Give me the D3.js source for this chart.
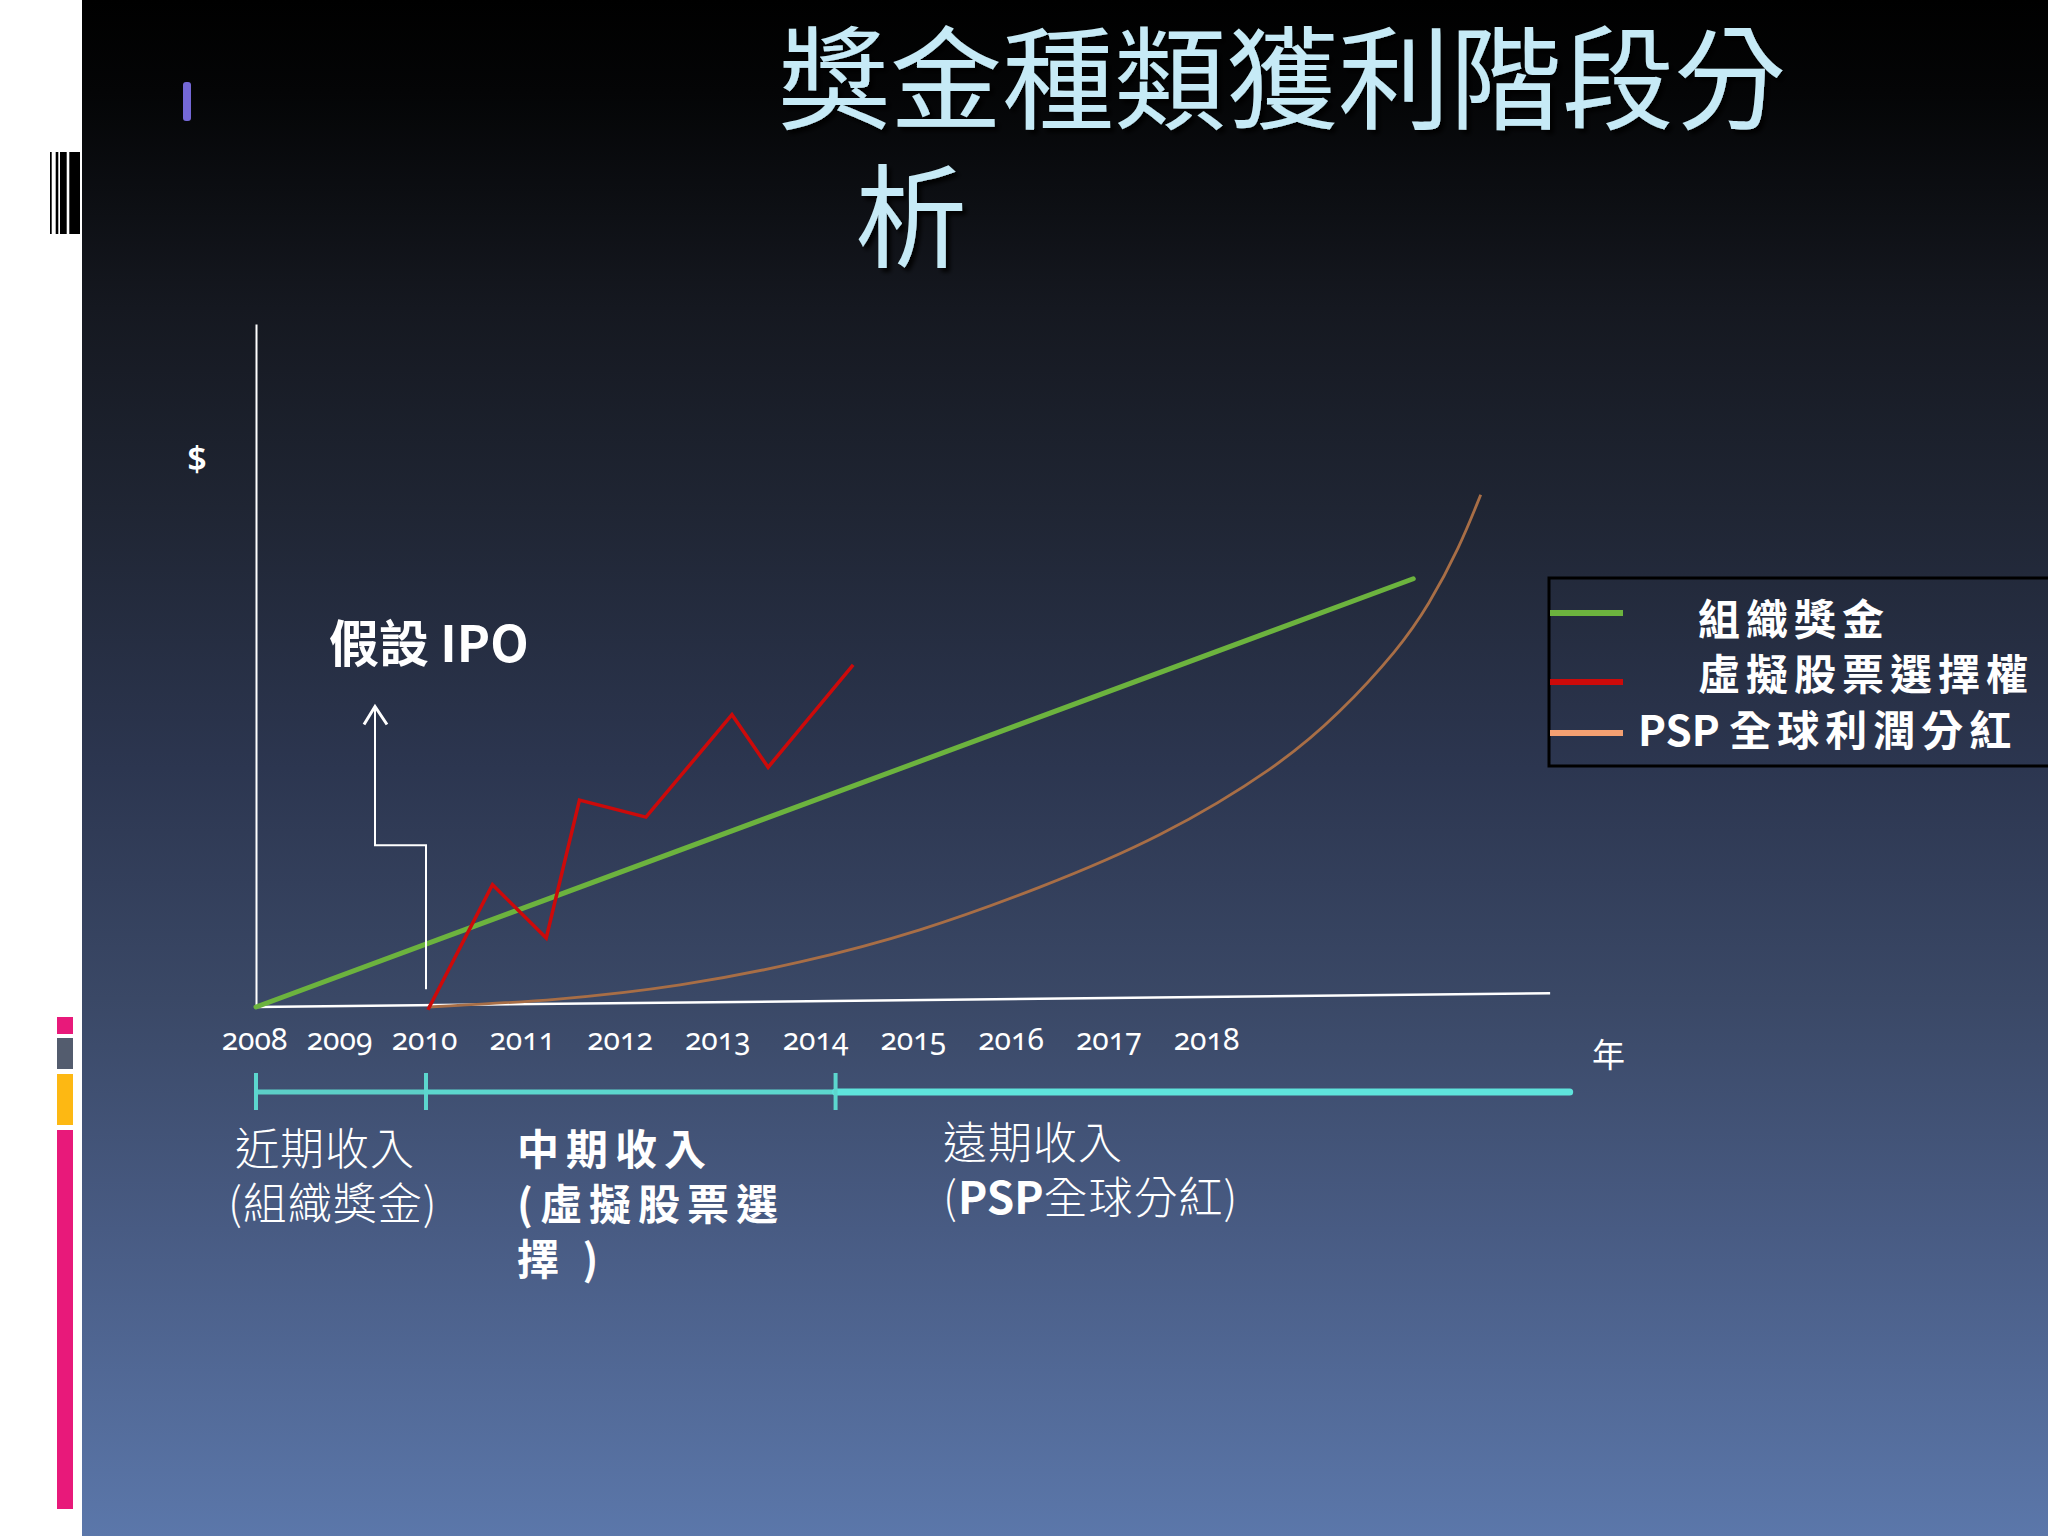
<!DOCTYPE html>
<html>
<head>
<meta charset="utf-8">
<script src="https://cdn.jsdelivr.net/npm/d3@7"></script>
<style>
html, body { margin: 0; padding: 0; background: #fff; }
svg { display: block; }
</style>
</head>
<body>
<svg id="slide" width="2048" height="1536"></svg>
<script>
// chart values
var titleLines = ["獎金種類獲利階段分", "析"];
var years = [2008, 2009, 2010, 2011, 2012, 2013, 2014, 2015, 2016, 2017, 2018];

var bonusYears = [2008, 2020.1];
var bonusValues = [0, 62.7];

var optionYears = [2010.02, 2010.68, 2011.23, 2011.57, 2012.25, 2013.13, 2013.5, 2014.37];
var optionValues = [-0.4, 17.9, 10.1, 30.3, 27.8, 42.8, 35.1, 50.1];

var pspYears = [2010.02, 2011.37, 2012.6, 2013.83, 2015.05, 2016.28, 2017.51, 2018.73, 2019.34, 2019.95, 2020.26, 2020.57, 2020.79];
var pspValues = [0, 1.0, 3.0, 6.4, 11.0, 17.4, 24.7, 35.3, 42.9, 52.4, 58.9, 67.2, 75.0];

var ipoArrowYears = [2010, 2010, 2009.4, 2009.4];
var ipoArrowValues = [2.6, 23.7, 23.7, 44];

var phaseBreaks = [2008, 2010, 2014.19, 2021.7];
var phaseLabels = [["近期收入", "(組織獎金)"], ["中期收入", "( 虛擬股票選", "擇 )"], ["遠期收入", "(PSP全球分紅)"]];

var legendLabels = ["組織獎金", "虛擬股票選擇權", "PSP 全球利潤分紅"];
var seriesColors = ["#6cb33e", "#cc0a0a", "#f4a072"];

var svg = d3.select("#slide");
var defs = svg.append("defs");

// background gradient of the slide
var grad = defs.append("linearGradient")
    .attr("id", "bg")
    .attr("x1", 0).attr("y1", 0).attr("x2", 0).attr("y2", 1);
[[0, "#000000"], [0.06, "#040506"], [0.2, "#151820"], [0.33, "#1f2533"], [0.5, "#2c3650"],
 [0.65, "#3a4866"], [0.8, "#485b83"], [1, "#5b77aa"]].forEach(function (s) {
    grad.append("stop").attr("offset", s[0]).attr("stop-color", s[1]);
});

var shadow = defs.append("filter").attr("id", "shadow")
    .attr("x", "-5%").attr("y", "-5%").attr("width", "115%").attr("height", "115%");
shadow.append("feDropShadow")
    .attr("dx", 4).attr("dy", 4).attr("stdDeviation", 2)
    .attr("flood-color", "#000").attr("flood-opacity", 0.9);

svg.append("rect").attr("width", 2048).attr("height", 1536).attr("fill", "#ffffff");
svg.append("rect").attr("x", 82).attr("width", 1966).attr("height", 1536).attr("fill", "url(#bg)");

// slide decorations on the left
var bars = [[50, 1.7], [55.7, 2.6], [60, 6.7], [69.3, 10.7]];
svg.selectAll(".barcode").data(bars).enter().append("rect")
    .attr("class", "barcode")
    .attr("x", function (d) { return d[0]; })
    .attr("y", 152)
    .attr("width", function (d) { return d[1]; })
    .attr("height", 82)
    .attr("fill", "#000");

svg.append("rect").attr("x", 183).attr("y", 82).attr("width", 8).attr("height", 39)
    .attr("rx", 3).attr("fill", "#7468d6");

var blocks = [[1017, 17, "#e8197a"], [1038, 31, "#535c6e"], [1074, 51, "#fdb813"], [1130, 379, "#e8197a"]];
svg.selectAll(".block").data(blocks).enter().append("rect")
    .attr("class", "block")
    .attr("x", 57)
    .attr("y", function (d) { return d[0]; })
    .attr("width", 16)
    .attr("height", function (d) { return d[1]; })
    .attr("fill", function (d) { return d[2]; });

// title
svg.append("g").attr("filter", "url(#shadow)")
    .selectAll("text").data(titleLines).enter().append("text")
    .attr("x", function (d, i) { return i === 0 ? 778 : 855; })
    .attr("y", function (d, i) { return 121 + i * 138; })
    .attr("font-family", "'Noto Sans CJK TC', sans-serif")
    .attr("font-size", 112)
    .attr("fill", "#c6eaf6")
    .text(function (d) { return d; });

// scales
var x = d3.scaleLinear().domain([2008, 2010, 2018]).range([256, 426, 1208]);
var y = d3.scaleLinear().domain([0, 100]).range([1007, 324]);

// y axis: bare line
var yAxis = svg.append("g")
    .attr("transform", "translate(" + x(2008) + ",0)")
    .call(d3.axisLeft(y).tickValues([]).tickSizeOuter(0));
yAxis.select(".domain").attr("stroke", "#ffffff").attr("stroke-width", 2);

svg.append("text")
    .attr("x", 197).attr("y", 471)
    .attr("text-anchor", "middle")
    .attr("font-family", "'Noto Sans', sans-serif")
    .attr("font-weight", 600)
    .attr("font-size", 34)
    .attr("fill", "#ffffff")
    .text("$");

// x axis: slightly tilted base line, labels from axisBottom
svg.append("line")
    .attr("x1", x(2008)).attr("y1", y(0))
    .attr("x2", x(2021.5)).attr("y2", y(2))
    .attr("stroke", "#ffffff").attr("stroke-width", 2.5);

var xAxis = svg.append("g")
    .attr("transform", "translate(-2," + y(0) + ")")
    .call(d3.axisBottom(x).tickValues(years).tickFormat(d3.format("d")).tickSize(0).tickPadding(22));
xAxis.select(".domain").remove();
xAxis.selectAll("text")
    .attr("font-family", "'Noto Sans', sans-serif")
    .attr("font-size", 30)
    .style("font-variant-numeric", "oldstyle-nums")
    .attr("fill", "#ffffff");

svg.append("text")
    .attr("x", 1592).attr("y", 1067)
    .attr("font-family", "'Noto Sans CJK TC', sans-serif")
    .attr("font-size", 33)
    .attr("fill", "#ffffff")
    .text("年");

// series lines
var line = d3.line()
    .x(function (d) { return x(d[0]); })
    .y(function (d) { return y(d[1]); });

var pspData = d3.zip(pspYears, pspValues);
svg.append("path")
    .attr("d", line.curve(d3.curveBasis)(pspData))
    .attr("fill", "none")
    .attr("stroke", "#a86e46")
    .attr("stroke-width", 2.8);

line.curve(d3.curveLinear);
svg.append("path")
    .attr("d", line(d3.zip(bonusYears, bonusValues)))
    .attr("fill", "none")
    .attr("stroke", seriesColors[0])
    .attr("stroke-width", 5)
    .attr("stroke-linecap", "round");

svg.append("path")
    .attr("d", line(d3.zip(optionYears, optionValues)))
    .attr("fill", "none")
    .attr("stroke", seriesColors[1])
    .attr("stroke-width", 3.5)
    .attr("stroke-linejoin", "miter");

// IPO annotation
svg.append("path")
    .attr("d", line(d3.zip(ipoArrowYears, ipoArrowValues)))
    .attr("fill", "none")
    .attr("stroke", "#ffffff")
    .attr("stroke-width", 2);

var tipX = x(ipoArrowYears[3]), tipY = y(ipoArrowValues[3]);
svg.append("path")
    .attr("d", "M" + (tipX - 11) + "," + (tipY + 18) + "L" + tipX + "," + tipY + "L" + (tipX + 12) + "," + (tipY + 18))
    .attr("fill", "none")
    .attr("stroke", "#ffffff")
    .attr("stroke-width", 3);

svg.append("text")
    .attr("x", 329).attr("y", 662)
    .attr("font-family", "'Noto Sans CJK TC', sans-serif")
    .attr("font-weight", "bold")
    .attr("font-size", 50)
    .attr("fill", "#ffffff")
    .text("假設 IPO");

// legend
var legend = svg.append("g");
legend.append("rect")
    .attr("x", 1549).attr("y", 578)
    .attr("width", 600).attr("height", 188)
    .attr("fill", "none")
    .attr("stroke", "#000")
    .attr("stroke-width", 3);

var legendLineY = [613, 682, 733];
var legendTextX = [1698, 1698, 1638];
var legendTextY = [635, 690, 746];
legend.selectAll(".lg-line").data(legendLabels).enter().append("line")
    .attr("class", "lg-line")
    .attr("x1", 1550).attr("x2", 1623)
    .attr("y1", function (d, i) { return legendLineY[i]; })
    .attr("y2", function (d, i) { return legendLineY[i]; })
    .attr("stroke", function (d, i) { return seriesColors[i]; })
    .attr("stroke-width", 6);

legend.selectAll(".lg-text").data(legendLabels).enter().append("text")
    .attr("class", "lg-text")
    .attr("x", function (d, i) { return legendTextX[i]; })
    .attr("y", function (d, i) { return legendTextY[i]; })
    .attr("font-family", "'Noto Sans CJK TC', sans-serif")
    .attr("font-weight", "bold")
    .attr("font-size", 42)
    .attr("fill", "#ffffff")
    .each(function (d) {
        var t = d3.select(this);
        var parts = d.split(" ");
        if (parts.length > 1) {
            t.append("tspan").attr("letter-spacing", 0).text(parts[0] + " ");
            t.append("tspan").attr("letter-spacing", 6).text(parts[1]);
        } else {
            t.append("tspan").attr("letter-spacing", 6).text(d);
        }
    });

// timeline of income phases
var tl = svg.append("g");
var tlY = 1092;
var segWidth = [5, 5, 7];
var segColor = ["#5ccfc8", "#5cd6ce", "#5ee4dc"];
d3.range(phaseBreaks.length - 1).forEach(function (i) {
    tl.append("line")
        .attr("x1", x(phaseBreaks[i])).attr("x2", x(phaseBreaks[i + 1]))
        .attr("y1", tlY).attr("y2", tlY)
        .attr("stroke", segColor[i])
        .attr("stroke-width", segWidth[i])
        .attr("stroke-linecap", i === 2 ? "round" : "butt");
});
tl.selectAll(".tick").data(phaseBreaks.slice(0, 3)).enter().append("line")
    .attr("x1", function (d) { return x(d); })
    .attr("x2", function (d) { return x(d); })
    .attr("y1", tlY - 19).attr("y2", tlY + 18)
    .attr("stroke", "#5cd6ce")
    .attr("stroke-width", 4);

var phaseX = [228, 517, 943];
var phaseY = [1165, 1165, 1159];
var phaseBold = [false, true, false];
phaseLabels.forEach(function (lines, i) {
    lines.forEach(function (txt, j) {
        var t = svg.append("text")
            .attr("x", phaseX[i] + (i === 0 && j === 0 ? 7 : 0))
            .attr("y", phaseY[i] + j * 55)
            .attr("font-family", "'Noto Sans CJK TC', sans-serif")
            .attr("font-size", phaseBold[i] ? 42 : 44)
            .attr("font-weight", phaseBold[i] ? "bold" : 300)
            .attr("letter-spacing", phaseBold[i] ? 7 : 1)
            .attr("fill", "#ffffff");
        if (txt.indexOf("PSP") >= 0) {
            t.append("tspan").text("(");
            t.append("tspan").attr("font-weight", "bold").attr("letter-spacing", 0).text("PSP");
            t.append("tspan").text(txt.slice(4));
        } else if (txt.indexOf("( ") === 0) {
            t.append("tspan").attr("letter-spacing", 0).text("(");
            t.append("tspan").attr("dx", 7).text(txt.slice(2));
        } else {
            t.text(txt);
        }
    });
});
</script>
</body>
</html>
